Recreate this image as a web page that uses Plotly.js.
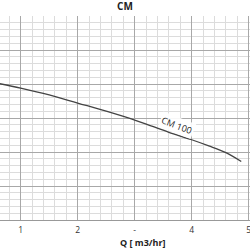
<!DOCTYPE html>
<html><head><meta charset="utf-8">
<script src="https://cdn.plot.ly/plotly-3.0.1.min.js"></script>
<style>html,body{margin:0;padding:0;background:#fff}#c{width:250px;height:250px}</style>
</head><body><div id="c"></div>
<script>
const flow = [0.6, 1.0, 1.5, 2.0, 2.5, 3.0, 3.3, 3.6, 4.0, 4.3, 4.6, 4.87];
const head = [20.1, 19.4, 18.4, 17.2, 16.0, 14.7, 13.8, 12.9, 11.8, 10.9, 9.9, 8.6];
const tickVals = [1, 2, 3, 4, 5];
const tickText = ['1', '2', '-', '4', '5'];
const curveName = 'CM 100';
const chartTitle = 'CM';
const xTitle = 'Q [ m3/hr]';

Plotly.newPlot('c', [{
  x: flow, y: head, mode: 'lines', line: {color: '#444', width: 1.3, shape: 'spline'},
  hoverinfo: 'skip', showlegend: false
}], {
  width: 250, height: 250,
  margin: {l: 0, r: 0, t: 16, b: 30},
  paper_bgcolor: '#fff', plot_bgcolor: '#fff',
  font: {family: 'Open Sans, sans-serif', color: '#333'},
  title: {text: '<b>' + chartTitle + '</b>', x: 0.5, xanchor: 'center', y: 0.974, yanchor: 'middle', font: {size: 10, color: '#222'}},
  xaxis: {
    range: [0.637, 5.023], tickvals: tickVals, ticktext: tickText,
    showgrid: true, gridcolor: '#a8a8a8', gridwidth: 1,
    minor: {dtick: 0.2, tick0: 0, showgrid: true, gridcolor: '#dcdcdc', gridwidth: 1},
    zeroline: false, showline: true, linecolor: '#999', ticks: '',
    tickfont: {size: 8.5, color: '#333'}, ticklabeloverflow: 'allow', ticklabelstandoff: 2,
    fixedrange: true
  },
  yaxis: {
    range: [0, 30], dtick: 5, tick0: 0, showticklabels: false,
    showgrid: true, gridcolor: '#a8a8a8', gridwidth: 1,
    minor: {dtick: 1, tick0: 0, showgrid: true, gridcolor: '#dcdcdc', gridwidth: 1},
    zeroline: false, showline: false, ticks: '', fixedrange: true
  },
  annotations: [
    {x: 3.75, y: 13.9, xref: 'x', yref: 'y', text: curveName, showarrow: false, textangle: 21,
     font: {size: 9, color: '#222'}, bgcolor: 'rgba(255,255,255,0.9)'},
    {x: 0.572, y: -0.108, xref: 'paper', yref: 'paper', text: '<b>' + xTitle + '</b>', showarrow: false,
     xanchor: 'center', yanchor: 'middle', font: {size: 9, color: '#222'}}
  ]
}, {staticPlot: true, displayModeBar: false});
</script></body></html>
